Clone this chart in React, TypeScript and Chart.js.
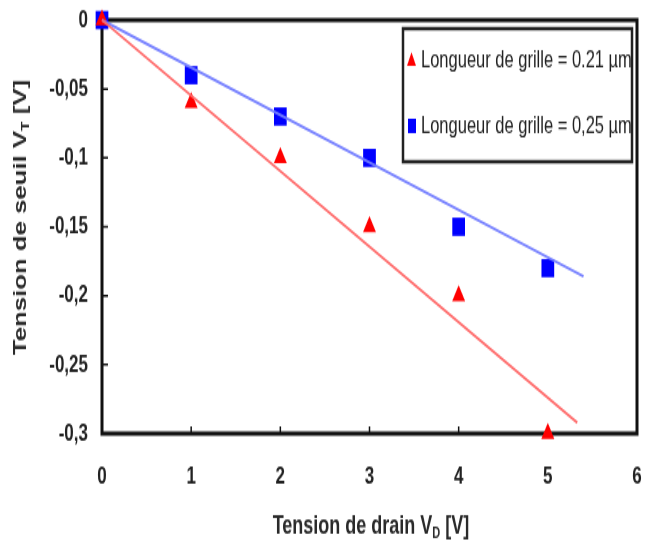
import React, { useEffect, useRef } from "react";
import { Chart, registerables } from "chart.js";

Chart.register(...registerables);

const drainVoltage = [0, 1, 2, 3, 4, 5];
const thresholdL021 = [0, -0.06, -0.1, -0.15, -0.2, -0.3];
const thresholdL025 = [0, -0.04, -0.07, -0.1, -0.15, -0.18];
const fitL021X = [0, 5.33];
const fitL021Y = [0, -0.292];
const fitL025X = [0, 5.4];
const fitL025Y = [0, -0.186];
const legendLabels = ["Longueur de grille = 0.21 µm", "Longueur de grille = 0,25 µm"];
const xTickValues = [0, 1, 2, 3, 4, 5, 6];
const yTickValues = [0, -0.05, -0.1, -0.15, -0.2, -0.25, -0.3];

const RED = "#ff0000";
const BLUE = "#0000ff";
const FONT = "'Liberation Sans', Arial, sans-serif";
// the reference is stretched vertically; draw at reduced height and stretch with CSS
const W = 646;
const H = 383;

const framePlugin = {
  id: "frame",
  beforeDatasetsDraw(chart: any) {
    const { ctx, chartArea: a, scales } = chart;
    ctx.save();
    ctx.strokeStyle = "#111";
    ctx.lineWidth = 1.5;
    ctx.beginPath();
    for (const v of yTickValues) {
      const y = scales.y.getPixelForValue(v);
      ctx.moveTo(a.left, y);
      ctx.lineTo(a.left + 6, y);
    }
    for (const v of xTickValues) {
      const x = scales.x.getPixelForValue(v);
      ctx.moveTo(x, a.bottom);
      ctx.lineTo(x, a.bottom - 5);
    }
    ctx.stroke();
    ctx.lineWidth = 3;
    ctx.strokeRect(a.left, a.top, a.right - a.left, a.bottom - a.top);
    ctx.restore();
  },
  afterDraw(chart: any) {
    const { ctx } = chart;
    ctx.save();
    const lx = 403, ly = 20, lw = 229, lh = 93;
    ctx.fillStyle = "#fff";
    ctx.fillRect(lx, ly, lw, lh);
    ctx.lineWidth = 2.5;
    ctx.strokeStyle = "#222";
    ctx.strokeRect(lx, ly, lw, lh);
    const rows = [42, 88];
    ctx.fillStyle = RED;
    ctx.beginPath();
    ctx.moveTo(411.5, rows[0] - 5.5);
    ctx.lineTo(416, rows[0] + 4);
    ctx.lineTo(407, rows[0] + 4);
    ctx.closePath();
    ctx.fill();
    ctx.fillStyle = BLUE;
    ctx.fillRect(408, rows[1] - 5, 8, 10);
    ctx.fillStyle = "#222";
    ctx.font = `16.5px ${FONT}`;
    ctx.textBaseline = "middle";
    ctx.textAlign = "left";
    ctx.save();
    ctx.beginPath();
    ctx.rect(lx, ly, lw - 1, lh);
    ctx.clip();
    ctx.fillText(legendLabels[0], 421, rows[0]);
    ctx.fillText(legendLabels[1], 421, rows[1]);
    ctx.restore();

    const drawTitle = (parts: { t: string; sub?: boolean }[], size: number) => {
      let w = 0;
      for (const p of parts) {
        ctx.font = `bold ${p.sub ? Math.round(size * 0.6) : size}px ${FONT}`;
        w += ctx.measureText(p.t).width;
      }
      let x = -w / 2;
      for (const p of parts) {
        ctx.font = `bold ${p.sub ? Math.round(size * 0.6) : size}px ${FONT}`;
        ctx.fillText(p.t, x, p.sub ? size * 0.3 : 0);
        x += ctx.measureText(p.t).width;
      }
    };
    ctx.fillStyle = "#2a2a2a";
    ctx.textAlign = "left";
    ctx.textBaseline = "middle";
    ctx.save();
    ctx.translate(371, 368);
    drawTitle([{ t: "Tension de drain V" }, { t: "D", sub: true }, { t: " [V]" }], 18);
    ctx.restore();
    ctx.save();
    ctx.translate(21, 152);
    ctx.rotate(-Math.PI / 2);
    drawTitle([{ t: "Tension de seuil V" }, { t: "T", sub: true }, { t: " [V]" }], 18);
    ctx.restore();
    ctx.restore();
  },
};

export default function App() {
  const ref = useRef<HTMLCanvasElement | null>(null);
  useEffect(() => {
    if (!ref.current) return;
    const chart = new Chart(ref.current, {
      type: "scatter",
      data: {
        datasets: [
          {
            label: "fit021",
            type: "line",
            data: fitL021X.map((x, i) => ({ x, y: fitL021Y[i] })),
            borderColor: "rgba(255,105,105,0.95)",
            borderWidth: 2,
            pointRadius: 0,
            showLine: true,
            fill: false,
          } as any,
          {
            label: "fit025",
            type: "line",
            data: fitL025X.map((x, i) => ({ x, y: fitL025Y[i] })),
            borderColor: "rgba(115,125,255,0.95)",
            borderWidth: 2,
            pointRadius: 0,
            showLine: true,
            fill: false,
          } as any,
          {
            label: legendLabels[0],
            data: drainVoltage.map((x, i) => ({ x, y: thresholdL021[i] })),
            pointStyle: "triangle",
            pointRadius: 7.5,
            backgroundColor: RED,
            borderColor: RED,
            borderWidth: 0,
          },
          {
            label: legendLabels[1],
            data: drainVoltage.map((x, i) => ({ x, y: thresholdL025[i] })),
            pointStyle: "rect",
            pointRadius: 9,
            backgroundColor: BLUE,
            borderColor: BLUE,
            borderWidth: 0,
          },
        ],
      },
      options: {
        animation: false,
        responsive: false,
        devicePixelRatio: 1,
        clip: false as any,
        layout: { padding: { left: 0, right: 9, top: 14, bottom: 0 } },
        plugins: { legend: { display: false }, tooltip: { enabled: false } },
        scales: {
          x: {
            type: "linear",
            min: 0,
            max: 6,
            afterBuildTicks: (s: any) => {
              s.ticks = xTickValues.map((v) => ({ value: v }));
            },
            afterFit: (s: any) => {
              s.height = 80;
              s.paddingLeft = 0;
              s.paddingRight = 0;
            },
            grid: { display: false, drawTicks: true, tickLength: 16 },
            border: { display: false },
            ticks: {
              padding: 4,
              color: "#222",
              font: { family: FONT, size: 17, weight: "bold" },
              callback: (v: any) => String(v),
            },
          },
          y: {
            type: "linear",
            min: -0.3,
            max: 0,
            afterBuildTicks: (s: any) => {
              s.ticks = yTickValues.map((v) => ({ value: v }));
            },
            afterFit: (s: any) => {
              s.width = 102;
              s.paddingTop = 0;
              s.paddingBottom = 0;
            },
            grid: { display: false, drawTicks: false },
            border: { display: false },
            ticks: {
              padding: 14,
              color: "#222",
              font: { family: FONT, size: 17, weight: "bold" },
              callback: (v: any) => {
                const n = Number(v);
                if (Math.abs(n) < 1e-9) return "0";
                return String(Math.round(n * 100) / 100).replace(".", ",");
              },
            },
          },
        },
      },
      plugins: [framePlugin],
    });
    return () => chart.destroy();
  }, []);
  return (
    <div style={{ position: "fixed", left: 0, top: 0, width: 646, height: 548, background: "#fff" }}>
      <canvas
        ref={ref}
        width={W}
        height={H}
        style={{ display: "block", width: "646px", height: "548px" }}
      />
    </div>
  );
}
